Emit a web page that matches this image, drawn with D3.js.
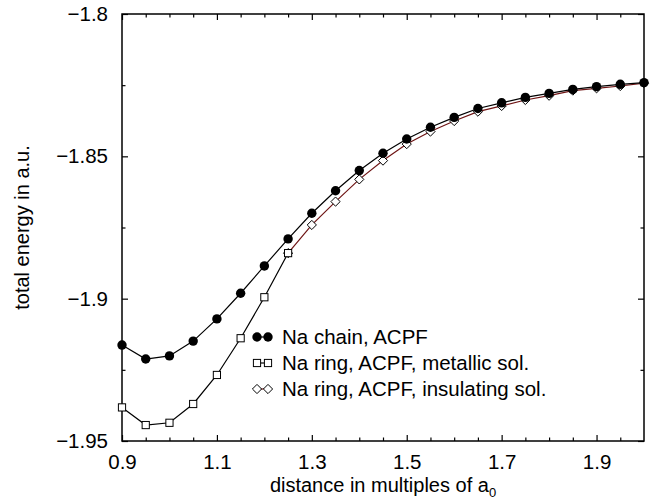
<!DOCTYPE html>
<html>
<head>
<meta charset="utf-8">
<script src="https://cdn.jsdelivr.net/npm/d3@7"></script>
<style>
  body { margin: 0; background: #fff; }
  text { font-family: "Liberation Sans", Arial, Helvetica, sans-serif; }
</style>
</head>
<body>
<div id="chart"></div>
<script>
// Na chain, ACPF
const chainX = [0.9, 0.95, 1.0, 1.05, 1.1, 1.15, 1.2, 1.25, 1.3, 1.35, 1.4, 1.45, 1.5, 1.55, 1.6, 1.65, 1.7, 1.75, 1.8, 1.85, 1.9, 1.95, 2.0];
const chainE = [-1.9163, -1.9212, -1.9201, -1.9149, -1.9071, -1.8981, -1.8885, -1.8790, -1.8700, -1.8621, -1.8550, -1.8489, -1.8439, -1.8398, -1.8363, -1.8332, -1.8312, -1.8293, -1.8279, -1.8265, -1.8255, -1.8247, -1.8241];

// Na ring, ACPF, metallic sol.
const metallicX = [0.9, 0.95, 1.0, 1.05, 1.1, 1.15, 1.2, 1.25];
const metallicE = [-1.9382, -1.9444, -1.9436, -1.9370, -1.9268, -1.9139, -1.8995, -1.8840];

// Na ring, ACPF, insulating sol.
const insulatingX = [1.25, 1.3, 1.35, 1.4, 1.45, 1.5, 1.55, 1.6, 1.65, 1.7, 1.75, 1.8, 1.85, 1.9, 1.95, 2.0];
const insulatingE = [-1.8840, -1.8741, -1.8659, -1.8581, -1.8515, -1.8457, -1.8413, -1.8376, -1.8343, -1.8323, -1.8302, -1.8287, -1.8269, -1.8261, -1.8253, -1.8243];

const xMajor = [0.9, 1.1, 1.3, 1.5, 1.7, 1.9];
const xMinor = [0.95, 1.0, 1.05, 1.15, 1.2, 1.25, 1.35, 1.4, 1.45, 1.55, 1.6, 1.65, 1.75, 1.8, 1.85, 1.95];
const yMajor = [-1.95, -1.9, -1.85, -1.8];
const yMinor = [-1.925, -1.875, -1.825];

const legendLabels = ['Na chain, ACPF', 'Na ring, ACPF, metallic sol.', 'Na ring, ACPF, insulating sol.'];

const W = 664, H = 499;
const margin = { top: 14, right: 20, bottom: 58, left: 122 };
const width = W - margin.left - margin.right;
const height = H - margin.top - margin.bottom;

const svg = d3.select('#chart')
  .append('svg')
  .attr('width', W)
  .attr('height', H);

const g = svg.append('g')
  .attr('transform', `translate(${margin.left}, ${margin.top})`);

const xScale = d3.scaleLinear().domain([0.9, 2.0]).range([0, width]);
const yScale = d3.scaleLinear().domain([-1.95, -1.8]).range([height, 0]);

const fmt = d => d3.format('')(d).replace('-', '\u2212');

// ticks point inward on all four sides
g.append('g')
  .attr('class', 'x-axis')
  .attr('transform', `translate(0, ${height})`)
  .call(d3.axisBottom(xScale).tickValues(xMajor).tickSize(-6).tickPadding(13).tickFormat(fmt));
g.append('g')
  .attr('transform', `translate(0, ${height})`)
  .call(d3.axisBottom(xScale).tickValues(xMinor).tickSize(-3.5).tickFormat(''));
g.append('g')
  .call(d3.axisTop(xScale).tickValues(xMajor).tickSize(-6).tickFormat(''));
g.append('g')
  .call(d3.axisTop(xScale).tickValues(xMinor).tickSize(-3.5).tickFormat(''));

g.append('g')
  .attr('class', 'y-axis')
  .call(d3.axisLeft(yScale).tickValues(yMajor).tickSize(-6).tickPadding(14).tickFormat(fmt));
g.append('g')
  .call(d3.axisLeft(yScale).tickValues(yMinor).tickSize(-3.5).tickFormat(''));
g.append('g')
  .attr('transform', `translate(${width}, 0)`)
  .call(d3.axisRight(yScale).tickValues(yMajor).tickSize(-6).tickFormat(''));
g.append('g')
  .attr('transform', `translate(${width}, 0)`)
  .call(d3.axisRight(yScale).tickValues(yMinor).tickSize(-3.5).tickFormat(''));

g.selectAll('.domain').remove();
g.selectAll('.tick line').style('stroke', '#000').style('stroke-width', 1.2);
g.selectAll('.x-axis text, .y-axis text')
  .style('font-size', '20.5px')
  .style('fill', '#000');

g.append('rect')
  .attr('width', width)
  .attr('height', height)
  .attr('fill', 'none')
  .attr('stroke', '#000')
  .attr('stroke-width', 1.5);

// series
const series = [
  { xs: chainX, ys: chainE, color: '#000', marker: 'circle' },
  { xs: metallicX, ys: metallicE, color: '#000', marker: 'square' },
  { xs: insulatingX, ys: insulatingE, color: '#6e1414', marker: 'diamond' }
];

const line = d3.line()
  .x(d => xScale(d[0]))
  .y(d => yScale(d[1]));

function drawMarker(sel, type) {
  if (type === 'circle') {
    sel.append('circle').attr('r', 4.7).attr('fill', '#000');
  } else if (type === 'square') {
    sel.append('rect').attr('x', -3.6).attr('y', -3.6).attr('width', 7.2).attr('height', 7.2)
      .attr('fill', '#fff').attr('stroke', '#000').attr('stroke-width', 1);
  } else {
    sel.append('path').attr('d', 'M0,-4.6L4.6,0L0,4.6L-4.6,0Z')
      .attr('fill', '#fff').attr('stroke', '#000').attr('stroke-width', 1);
  }
}

// draw ring series first so chain sits on top
[series[2], series[1], series[0]].forEach(s => {
  const pts = s.xs.map((x, i) => [x, s.ys[i]]);
  g.append('path')
    .datum(pts)
    .attr('d', line)
    .attr('fill', 'none')
    .attr('stroke', s.color)
    .attr('stroke-width', 1.2);
  g.selectAll(null)
    .data(pts)
    .enter()
    .append('g')
    .attr('transform', d => `translate(${xScale(d[0])}, ${yScale(d[1])})`)
    .each(function() { drawMarker(d3.select(this), s.marker); });
});

// legend
const legend = svg.append('g').attr('transform', 'translate(257, 337)');
series.forEach((s, i) => {
  const row = legend.append('g').attr('transform', `translate(0, ${i * 26})`);
  row.append('line')
    .attr('x1', 0).attr('x2', 11)
    .attr('stroke', s.color).attr('stroke-width', 1.2);
  [0, 11].forEach(x => drawMarker(row.append('g').attr('transform', `translate(${x}, 0)`), s.marker));
  row.append('text')
    .attr('x', 25)
    .attr('y', 7)
    .style('font-size', '20.5px')
    .text(legendLabels[i]);
});

// axis titles
const xTitle = svg.append('text')
  .attr('x', margin.left + width / 2)
  .attr('y', 492)
  .attr('text-anchor', 'middle')
  .style('font-size', '20px')
  .text('distance in multiples of a');
xTitle.append('tspan')
  .attr('dy', 5)
  .style('font-size', '13px')
  .text('0');

svg.append('text')
  .attr('transform', `translate(29, ${margin.top + height / 2}) rotate(-90)`)
  .attr('text-anchor', 'middle')
  .style('font-size', '20px')
  .text('total energy in a.u.');
</script>
</body>
</html>
